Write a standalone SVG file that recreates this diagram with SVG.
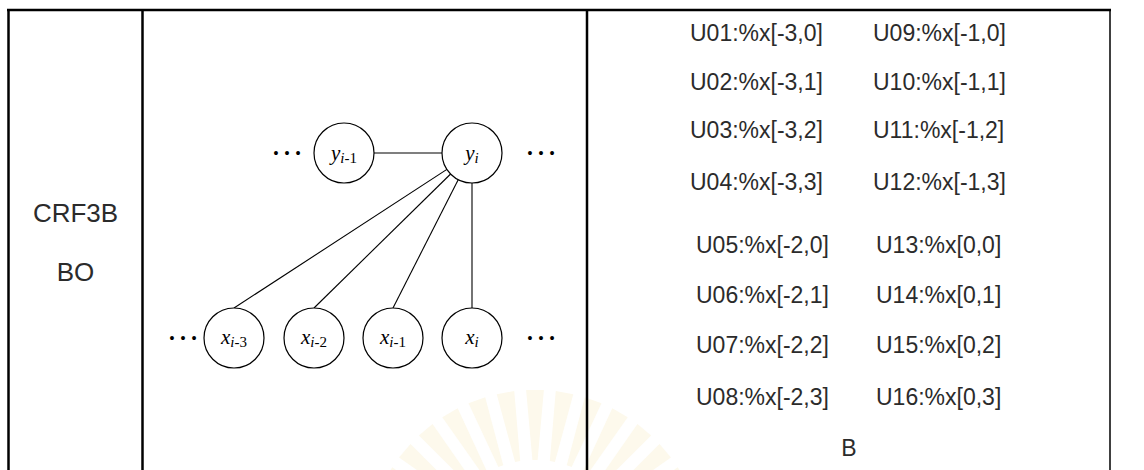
<svg xmlns="http://www.w3.org/2000/svg" width="1144" height="470" viewBox="0 0 1144 470">
<style>
.frame{stroke:#000;stroke-width:2.5;fill:none}
.thin{stroke:#000;stroke-width:1.5;fill:none}
.node{fill:#fff;stroke:#000;stroke-width:1.2}
.edge{stroke:#000;stroke-width:1.1;fill:none}
.lbl{font-family:"Liberation Sans",Arial,sans-serif;font-size:23px;fill:#2b2b2b}
.cell{font-family:"Liberation Sans",Arial,sans-serif;font-size:26px;fill:#2b2b2b;text-anchor:middle}
.math{font-family:"Liberation Serif","Times New Roman",serif;font-size:21px;fill:#000;text-anchor:middle}
.sub{font-size:15px}
.it{font-style:italic}
.dots{font-family:"Liberation Serif","Times New Roman",serif;font-size:33px;fill:#000;text-anchor:middle}
.ray{fill:#fdf9ec}
</style>
<defs>
<polygon id="ray" class="ray" points="532.4,460 526.1,390 543.9,390 537.6,460"/>
</defs>
<rect width="1144" height="470" fill="#fff"/>
<g id="watermark">
<use href="#ray" transform="rotate(-60 535 560)"/>
<use href="#ray" transform="rotate(-50 535 560)"/>
<use href="#ray" transform="rotate(-40 535 560)"/>
<use href="#ray" transform="rotate(-30 535 560)"/>
<use href="#ray" transform="rotate(-20 535 560)"/>
<use href="#ray" transform="rotate(-10 535 560)"/>
<use href="#ray"/>
<use href="#ray" transform="rotate(10 535 560)"/>
<use href="#ray" transform="rotate(20 535 560)"/>
<use href="#ray" transform="rotate(30 535 560)"/>
<use href="#ray" transform="rotate(40 535 560)"/>
<use href="#ray" transform="rotate(50 535 560)"/>
<use href="#ray" transform="rotate(60 535 560)"/>
</g>
<g id="table">
<line class="frame" x1="7" y1="10" x2="1111" y2="10"/>
<line class="frame" x1="8.5" y1="9" x2="8.5" y2="470"/>
<line class="frame" x1="142.5" y1="9" x2="142.5" y2="470"/>
<line class="frame" x1="587" y1="9" x2="587" y2="470"/>
<line class="thin" x1="1110" y1="9" x2="1110" y2="470"/>
</g>
<g id="left-cell">
<text class="cell" x="75.5" y="222">CRF3B</text>
<text class="cell" x="75.5" y="281">BO</text>
</g>
<g id="connectors">
<line class="edge" x1="374" y1="153" x2="442" y2="153"/>
<line class="edge" x1="446.9" y1="169.4" x2="234" y2="308"/>
<line class="edge" x1="450.6" y1="174" x2="314" y2="308"/>
<line class="edge" x1="458.2" y1="179.7" x2="393" y2="308"/>
<line class="edge" x1="472" y1="183" x2="472" y2="308"/>
</g>
<g id="dots">
<text class="dots" x="287" y="155">…</text>
<text class="dots" x="541" y="155">…</text>
<text class="dots" x="183" y="340">…</text>
<text class="dots" x="541" y="340">…</text>
</g>
<g id="node-y-prev">
<circle class="node" cx="344" cy="153" r="30"/>
<text class="math" x="344" y="160"><tspan class="it">y</tspan><tspan class="sub" dy="3"><tspan class="it">i</tspan>-1</tspan></text>
</g>
<g id="node-y">
<circle class="node" cx="472" cy="153" r="30"/>
<text class="math" x="472" y="160"><tspan class="it">y</tspan><tspan class="sub it" dy="3">i</tspan></text>
</g>
<g id="node-x3">
<circle class="node" cx="234" cy="338" r="30"/>
<text class="math" x="234" y="344"><tspan class="it">x</tspan><tspan class="sub" dy="3"><tspan class="it">i</tspan>-3</tspan></text>
</g>
<g id="node-x2">
<circle class="node" cx="314" cy="338" r="30"/>
<text class="math" x="314" y="344"><tspan class="it">x</tspan><tspan class="sub" dy="3"><tspan class="it">i</tspan>-2</tspan></text>
</g>
<g id="node-x1">
<circle class="node" cx="393" cy="338" r="30"/>
<text class="math" x="393" y="344"><tspan class="it">x</tspan><tspan class="sub" dy="3"><tspan class="it">i</tspan>-1</tspan></text>
</g>
<g id="node-x">
<circle class="node" cx="472" cy="338" r="30"/>
<text class="math" x="472" y="344"><tspan class="it">x</tspan><tspan class="sub it" dy="3">i</tspan></text>
</g>
<g id="templates">
<text class="lbl" x="690" y="41">U01:%x[-3,0]</text>
<text class="lbl" x="873" y="41">U09:%x[-1,0]</text>
<text class="lbl" x="690" y="90">U02:%x[-3,1]</text>
<text class="lbl" x="873" y="90">U10:%x[-1,1]</text>
<text class="lbl" x="690" y="138">U03:%x[-3,2]</text>
<text class="lbl" x="873" y="138">U11:%x[-1,2]</text>
<text class="lbl" x="690" y="190">U04:%x[-3,3]</text>
<text class="lbl" x="873" y="190">U12:%x[-1,3]</text>
<text class="lbl" x="696" y="253">U05:%x[-2,0]</text>
<text class="lbl" x="876" y="253">U13:%x[0,0]</text>
<text class="lbl" x="696" y="303">U06:%x[-2,1]</text>
<text class="lbl" x="876" y="303">U14:%x[0,1]</text>
<text class="lbl" x="696" y="353">U07:%x[-2,2]</text>
<text class="lbl" x="876" y="353">U15:%x[0,2]</text>
<text class="lbl" x="696" y="405">U08:%x[-2,3]</text>
<text class="lbl" x="876" y="405">U16:%x[0,3]</text>
<text class="lbl" x="849" y="456" text-anchor="middle">B</text>
</g>
</svg>
